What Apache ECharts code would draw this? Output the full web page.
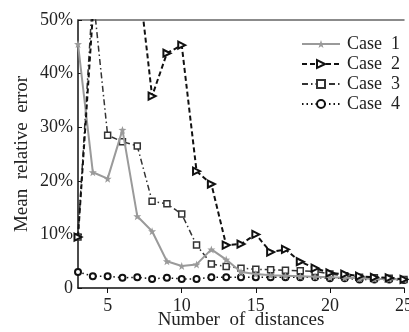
<!DOCTYPE html>
<html>
<head>
<meta charset="utf-8">
<script src="https://cdn.jsdelivr.net/npm/echarts@6/dist/echarts.min.js"></script>
<style>
  html, body { margin: 0; padding: 0; background: #fff; }
  #chart { width: 409px; height: 332px; }
</style>
</head>
<body>
<div id="chart"></div>
<script>
// number of distances (x)
const distances = [3, 4, 5, 6, 7, 8, 9, 10, 11, 12, 13, 14, 15, 16, 17, 18, 19, 20, 21, 22, 23, 24, 25]
// mean relative error, %
const case1 = [45.5, 21.6, 20.4, 29.5, 13.4, 10.6, 5.0, 4.1, 4.4, 7.2, 5.3, 3.0, 2.6, 2.4, 2.3, 2.2, 2.1, 2.0, 1.9, 1.8, 1.7, 1.7, 1.6]
const case2 = [9.5, 51, 58, 60, 60, 35.8, 43.8, 45.3, 21.8, 19.4, 8.0, 8.2, 10.0, 6.7, 7.2, 4.9, 3.7, 2.8, 2.6, 2.2, 2.0, 1.9, 1.6]
const case3 = [9.5, 55, 28.5, 27.3, 26.5, 16.2, 15.7, 13.8, 8.0, 4.5, 4.0, 3.7, 3.5, 3.4, 3.3, 3.2, 3.1, 2.6, 2.3, 2.0, 1.9, 1.8, 1.6]
const case4 = [3.0, 2.2, 2.2, 1.9, 2.0, 1.7, 1.9, 1.7, 1.7, 2.0, 2.0, 2.0, 2.0, 2.0, 2.0, 2.0, 2.0, 1.8, 1.8, 1.6, 1.6, 1.6, 1.5]
const xTicks = [5, 10, 15, 20, 25]
const yTicks = [0, 10, 20, 30, 40, 50]

const seriesNames = ['Case  1', 'Case  2', 'Case  3', 'Case  4']
const xName = 'Number  of  distances'
const yName = 'Mean  relative  error'
const star = 'path://M0,-10L2.35,-3.24L9.51,-3.09L3.8,1.24L5.88,8.09L0,4.2L-5.88,8.09L-3.8,1.24L-9.51,-3.09L-2.35,-3.24Z'

const pairs = arr => arr.map((v, i) => [distances[i], v])
const font = 'Liberation Serif'

const chart = echarts.init(document.getElementById('chart'))

const option = {
  animation: false,
  grid: { left: 78, top: 20, right: 5, bottom: 44, containLabel: false, outerBoundsMode: 'none' },
  legend: {
    orient: 'vertical',
    left: 296,
    top: 30,
    itemWidth: 38,
    itemHeight: 10,
    itemGap: 2,
    textStyle: { fontFamily: font, fontSize: 18, lineHeight: 18, color: '#222', padding: [0, 0, 0, 2] },
    data: seriesNames
  },
  // axis titles
  graphic: [
    {
      type: 'text',
      x: 241,
      y: 320,
      style: { text: xName, font: '19px "Liberation Serif"', fill: '#222', align: 'center', verticalAlign: 'middle' }
    },
    {
      type: 'text',
      x: 22,
      y: 154,
      rotation: Math.PI / 2,
      style: { text: yName, font: '19px "Liberation Serif"', fill: '#222', align: 'center', verticalAlign: 'middle' }
    }
  ],
  xAxis: [
    {
      type: 'value',
      min: 3,
      max: 25,
      axisLine: { lineStyle: { color: '#111', width: 1.5 } },
      axisTick: { customValues: xTicks, length: 5, lineStyle: { color: '#111' } },
      axisLabel: { customValues: xTicks, margin: 9, fontFamily: font, fontSize: 18, color: '#222' },
      splitLine: { show: false }
    },
    {
      type: 'value',
      position: 'top',
      min: 3,
      max: 25,
      axisLine: { show: true, lineStyle: { color: '#666', width: 1.5 } },
      axisTick: { show: false },
      axisLabel: { show: false },
      splitLine: { show: false }
    }
  ],
  yAxis: {
    type: 'value',
    min: 0,
    max: 50,
    interval: 10,
    axisLine: { show: true, lineStyle: { color: '#111', width: 1.5 } },
    axisTick: { show: true, inside: true, length: 4, customValues: yTicks, lineStyle: { color: '#111' } },
    axisLabel: {
      margin: 5,
      fontFamily: font,
      fontSize: 18,
      color: '#222',
      formatter: v => (v === 0 ? '0' : v + '%')
    },
    splitLine: { show: false }
  },
  series: [
    {
      name: seriesNames[0],
      type: 'line',
      data: pairs(case1),
      symbol: star,
      symbolSize: 8,
      itemStyle: { color: '#9a9a9a' },
      lineStyle: { color: '#9a9a9a', width: 2 },
      z: 3
    },
    {
      name: seriesNames[1],
      type: 'line',
      data: pairs(case2),
      symbol: 'triangle',
      symbolRotate: -90,
      symbolSize: 7,
      itemStyle: { color: '#fff', borderColor: '#111', borderWidth: 2 },
      lineStyle: { color: '#111', width: 2, type: [5, 3] },
      z: 4
    },
    {
      name: seriesNames[2],
      type: 'line',
      data: pairs(case3),
      symbol: 'rect',
      symbolSize: 6,
      itemStyle: { color: '#fff', borderColor: '#333', borderWidth: 1.5 },
      lineStyle: { color: '#333', width: 1.5, type: [6, 3, 1.5, 3] },
      z: 2
    },
    {
      name: seriesNames[3],
      type: 'line',
      data: pairs(case4),
      symbol: 'circle',
      symbolSize: 6,
      itemStyle: { color: '#fff', borderColor: '#111', borderWidth: 2 },
      lineStyle: { color: '#111', width: 1.5, type: [1.5, 3] },
      z: 1
    }
  ]
}

chart.setOption(option)
</script>
</body>
</html>
